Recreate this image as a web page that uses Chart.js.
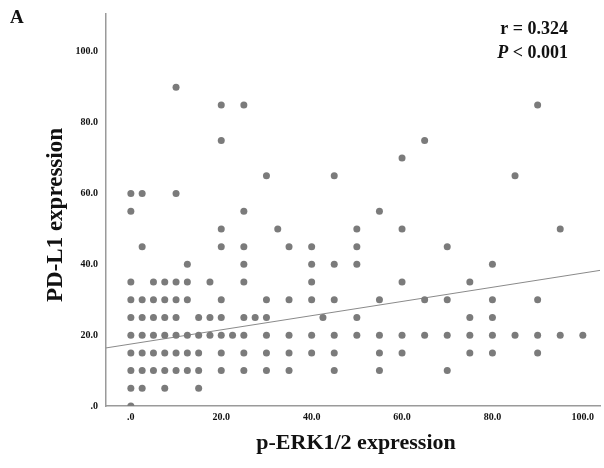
<!DOCTYPE html>
<html>
<head>
<meta charset="utf-8">
<script src="https://cdn.jsdelivr.net/npm/chart.js@4"></script>
<style>
  html, body { margin: 0; padding: 0; background: #fff; }
  #wrap { width: 604px; height: 468px; position: relative; }
</style>
</head>
<body>
<div id="wrap"><canvas id="scatterChart"></canvas></div>
<script>
// PD-L1 levels (y) and the p-ERK1/2 values (x) found at each level
const pdl1Levels = [90, 85, 75, 70, 65, 60, 55, 50, 45, 40, 35, 30, 25, 20, 15, 10, 5, 0];
const erkAtLevel = [
    [10],
    [20, 25, 90],
    [20, 65],
    [60],
    [30, 45, 85],
    [0, 2.5, 10],
    [0, 25, 55],
    [20, 32.5, 50, 60, 95],
    [2.5, 20, 25, 35, 40, 50, 70],
    [12.5, 25, 40, 45, 50, 80],
    [0, 5, 7.5, 10, 12.5, 17.5, 25, 40, 60, 75],
    [0, 2.5, 5, 7.5, 10, 12.5, 20, 30, 35, 40, 45, 55, 65, 70, 80, 90],
    [0, 2.5, 5, 7.5, 10, 15, 17.5, 20, 25, 27.5, 30, 42.5, 50, 75, 80],
    [0, 2.5, 5, 7.5, 10, 12.5, 15, 17.5, 20, 22.5, 25, 30, 35, 40, 45, 50, 55, 60, 65, 70, 75, 80, 85, 90, 95, 100],
    [0, 2.5, 5, 7.5, 10, 12.5, 15, 20, 25, 30, 35, 40, 45, 55, 60, 75, 80, 90],
    [0, 2.5, 5, 7.5, 10, 12.5, 15, 20, 25, 30, 35, 45, 55, 70],
    [0, 2.5, 7.5, 15],
    [0]
];

// fit line end points
const fitX = [-5.5, 103.8];
const fitY = [16.4, 38.3];

const xTicks = [0, 20, 40, 60, 80, 100];
const yTicks = [0, 20, 40, 60, 80, 100];

const points = [];
pdl1Levels.forEach((y, i) => {
    erkAtLevel[i].forEach(x => points.push({ x: x, y: y }));
});

const serif = '"Liberation Serif", "Times New Roman", serif';

function tickLabel(v) {
    return v === 0 ? '.0' : Number(v).toFixed(1);
}

// titles and r / P text
const textPlugin = {
    id: 'texts',
    afterDraw(chart) {
        const c = chart.ctx;
        c.save();
        c.fillStyle = '#111';
        c.textBaseline = 'middle';

        c.font = 'bold 19px ' + serif;
        c.textAlign = 'left';
        c.fillText('A', 10, 18);

        c.font = 'bold 22px ' + serif;
        c.textAlign = 'center';
        c.fillText('p-ERK1/2 expression', 356, 443);

        c.font = 'bold 23px ' + serif;
        c.save();
        c.translate(56, 215);
        c.rotate(-Math.PI / 2);
        c.fillText('PD-L1 expression', 0, 0);
        c.restore();

        c.font = 'bold 18px ' + serif;
        c.textAlign = 'right';
        c.fillText('r = 0.324', 568, 29);
        const rest = ' < 0.001';
        c.fillText(rest, 568, 53);
        const w = c.measureText(rest).width;
        c.font = 'italic bold 18px ' + serif;
        c.fillText('P', 568 - w, 53);
        c.restore();
    }
};

const ctx = document.getElementById('scatterChart').getContext('2d');
const chart = new Chart(ctx, {
    type: 'scatter',
    data: {
        datasets: [{
            label: 'cases',
            data: points,
            backgroundColor: '#7b7b7b',
            borderWidth: 0,
            pointRadius: 3.5,
            pointHoverRadius: 3.5,
        }, {
            label: 'fit',
            type: 'line',
            data: fitX.map((x, i) => ({ x: x, y: fitY[i] })),
            borderColor: '#8a8a8a',
            borderWidth: 1,
            pointRadius: 0,
            fill: false,
        }],
    },
    options: {
        responsive: true,
        maintainAspectRatio: false,
        animation: false,
        layout: { padding: { top: 13, right: 4, left: 0, bottom: 0 } },
        plugins: {
            legend: { display: false },
            tooltip: { enabled: false },
        },
        scales: {
            x: {
                type: 'linear',
                min: -5.5,
                max: 103.8,
                grid: { display: false, drawTicks: false },
                border: { display: true, color: '#9a9a9a', width: 1.5 },
                afterFit(scale) { scale.height = 62; },
                afterBuildTicks(scale) { scale.ticks = xTicks.map(v => ({ value: v })); },
                ticks: {
                    padding: 5,
                    color: '#111',
                    font: { family: serif, size: 10, weight: 'bold' },
                    maxRotation: 0,
                    callback: tickLabel,
                },
            },
            y: {
                type: 'linear',
                min: 0,
                max: 110.7,
                grid: { display: false, drawTicks: false },
                border: { display: true, color: '#9a9a9a', width: 1.5 },
                afterFit(scale) { scale.width = 106; },
                afterBuildTicks(scale) { scale.ticks = yTicks.map(v => ({ value: v })); },
                ticks: {
                    padding: 8,
                    color: '#111',
                    font: { family: serif, size: 10, weight: 'bold' },
                    callback: tickLabel,
                },
            },
        },
    },
    plugins: [textPlugin],
});
</script>
</body>
</html>
